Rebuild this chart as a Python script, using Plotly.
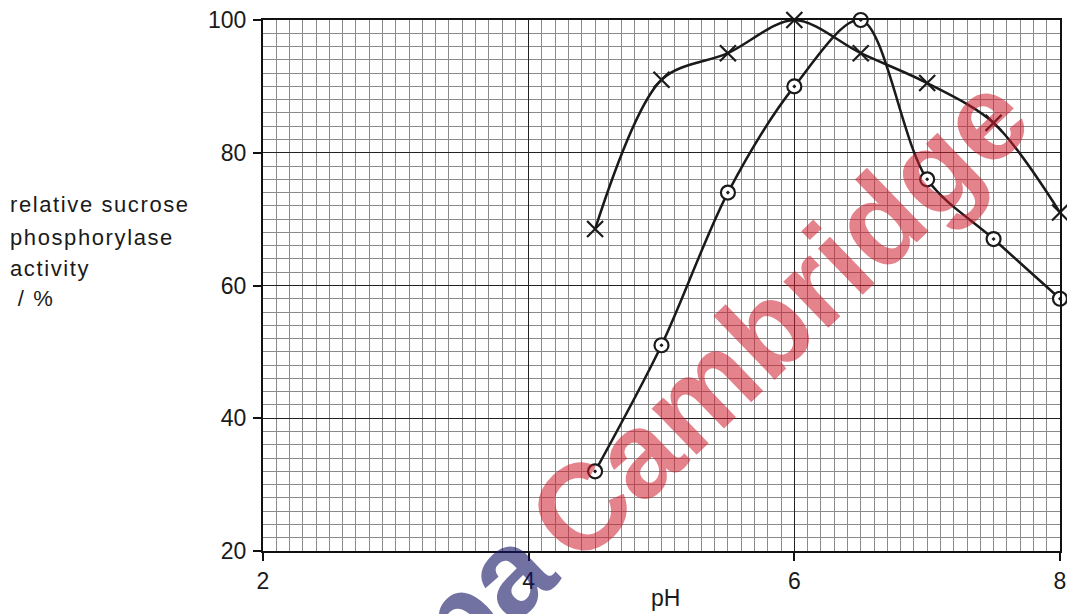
import plotly.graph_objects as go

# ---- data ----
ph = [4.5, 5.0, 5.5, 6.0, 6.5, 7.0, 7.5, 8.0]
activity_cross = [68.5, 91, 95, 100, 95, 90.5, 84.5, 71]
activity_circle = [32, 51, 74, 90, 100, 76, 67, 58]

x_ticks = [2, 4, 6, 8]
y_ticks = [20, 40, 60, 80, 100]
y_title_lines = ["relative sucrose", "phosphorylase", "activity", " / %"]
x_title = "pH"

FONT = "Liberation Sans, Arial, sans-serif"

fig = go.Figure()

fig.add_trace(go.Scatter(
    x=ph, y=activity_cross, mode="lines+markers", name="×",
    line=dict(color="#1a1a1a", width=2.5, shape="spline", smoothing=0.9),
    marker=dict(symbol="x-thin", size=16, line=dict(color="#1a1a1a", width=2.2)),
    showlegend=False, cliponaxis=False,
))
fig.add_trace(go.Scatter(
    x=ph, y=activity_circle, mode="lines+markers", name="⊙",
    line=dict(color="#1a1a1a", width=2.5, shape="spline", smoothing=0.9),
    marker=dict(symbol="circle-dot", size=14, color="white",
                line=dict(color="#1a1a1a", width=2.2)),
    showlegend=False, cliponaxis=False,
))

axis_common = dict(
    showline=True, linecolor="#111", linewidth=2, mirror=True,
    showgrid=True, gridcolor="#222", gridwidth=1.3,
    ticks="outside", ticklen=8, tickwidth=1.8, tickcolor="#111",
    tickfont=dict(family=FONT, size=23, color="#1a1a1a"),
    zeroline=False, automargin=False,
)

fig.update_xaxes(range=[2, 8], tickvals=x_ticks, ticktext=[str(v) for v in x_ticks],
                 minor=dict(dtick=0.1, showgrid=True, gridcolor="#8a8a8a", gridwidth=1, ticks=""),
                 **axis_common)
fig.update_yaxes(range=[20, 100], tickvals=y_ticks, ticktext=[str(v) for v in y_ticks],
                 minor=dict(dtick=2, showgrid=True, gridcolor="#8a8a8a", gridwidth=1, ticks=""),
                 ticklabelstandoff=2, **axis_common)

annotations = []
# y-axis title, one annotation per line
line_centers_px = [205, 237, 268, 298]
for txt, ypx in zip(y_title_lines, line_centers_px):
    annotations.append(dict(
        text=f'<span style="letter-spacing:1.6px">{txt}</span>',
        xref="paper", yref="paper",
        x=(8 - 263) / 797, y=(551 - ypx) / 531,
        xanchor="left", yanchor="middle", showarrow=False,
        font=dict(family=FONT, size=22, color="#1a1a1a"),
    ))
# x-axis title
annotations.append(dict(
    text=x_title, xref="paper", yref="paper",
    x=(665 - 263) / 797, y=(551 - 598) / 531,
    xanchor="center", yanchor="middle", showarrow=False,
    font=dict(family=FONT, size=23, color="#1a1a1a"),
))
# watermark
annotations.append(dict(
    text="<b>Cambridge</b>", xref="paper", yref="paper",
    x=(778 - 263) / 797, y=(551 - 318) / 531,
    xanchor="center", yanchor="middle", showarrow=False, textangle=-44,
    font=dict(family=FONT, size=122, color="rgba(205,30,45,0.55)"),
))
annotations.append(dict(
    text="<b>Papa</b>", xref="paper", yref="paper",
    x=(428 - 263) / 797, y=(551 - 650) / 531,
    xanchor="center", yanchor="middle", showarrow=False, textangle=-44,
    font=dict(family=FONT, size=122, color="rgba(20,20,100,0.6)"),
))

fig.update_layout(
    width=1067, height=614,
    margin=dict(l=263, r=7, t=20, b=63),
    paper_bgcolor="white", plot_bgcolor="white",
    annotations=annotations,
    font=dict(family=FONT),
)

fig.write_html("out.html", config={"displayModeBar": False})
